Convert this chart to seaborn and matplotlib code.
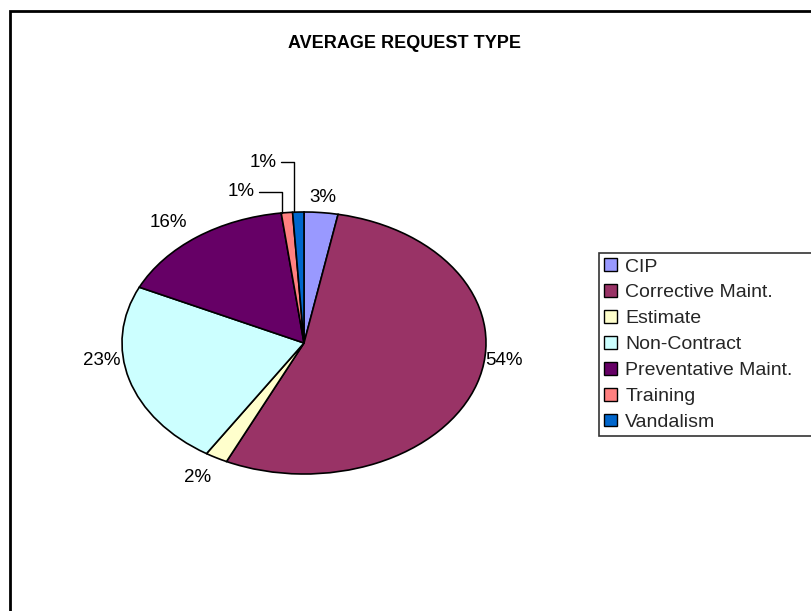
import matplotlib
matplotlib.use("Agg")
import matplotlib.pyplot as plt
import seaborn as sns
import numpy as np
from matplotlib.patches import Rectangle

categories = ["CIP", "Corrective Maint.", "Estimate", "Non-Contract",
              "Preventative Maint.", "Training", "Vandalism"]
values = [3, 54, 2, 23, 16, 1, 1]
colors = ["#9999FF", "#993366", "#FFFFCC", "#CCFFFF", "#660066", "#FF8080", "#0066CC"]
title = "AVERAGE REQUEST TYPE"

sns.set_theme(style="white")
plt.rcParams['font.family'] = ['Liberation Sans', 'DejaVu Sans']

W, H = 811, 611
fig = plt.figure(figsize=(W / 100, H / 100), dpi=100)
fig.patch.set_facecolor("white")

# outer frame
fig.add_artist(Rectangle((10 / W, -0.1), 1.2, 1.1 - 11 / H, transform=fig.transFigure,
                         fill=False, edgecolor="black", linewidth=2))

fig.text(404 / W, 1 - 43 / H, title, ha="center", va="center",
         fontsize=13, fontweight="bold", color="black")

# pie axes sized to the ellipse
cx, cy, rx, ry = 304, 343, 182, 131
ax = fig.add_axes([(cx - rx) / W, 1 - (cy + ry) / H, 2 * rx / W, 2 * ry / H])
wedges, _ = ax.pie(values, colors=colors, startangle=90, counterclock=False,
                   wedgeprops=dict(edgecolor="black", linewidth=1.2))
ax.set_aspect("auto")
ax.set_xlim(-1, 1)
ax.set_ylim(-1, 1)
ax.axis("off")

label_fs = 13.5
# label placement tweaks (distance factor, angle nudge in degrees)
place = [(1.115, 0), (1.108, 11), (1.18, -1), (1.12, -9.5), (1.18, 3)]
for i, (k, nudge) in enumerate(place):
    w = wedges[i]
    mid = np.deg2rad((w.theta1 + w.theta2) / 2 + nudge)
    ax.text(k * np.cos(mid), k * np.sin(mid), f"{values[i]}%", ha="center",
            va="center", fontsize=label_fs, color="black", clip_on=False)

# small slices with leader lines
offsets = {5: (-41.5, 21), 6: (-31, 50)}
for i, (dx, dy) in offsets.items():
    w = wedges[i]
    ang = np.deg2rad(w.theta2 - 0.1 * (w.theta2 - w.theta1))
    px, py = np.cos(ang), np.sin(ang)
    ax.annotate(f"{values[i]}%", xy=(px, py), xytext=(dx, dy), textcoords="offset pixels",
                ha="center", va="center", fontsize=label_fs, color="black",
                annotation_clip=False,
                arrowprops=dict(arrowstyle="-", color="black", linewidth=1,
                                shrinkA=1, shrinkB=0, relpos=(1, 0.5),
                                connectionstyle="angle,angleA=0,angleB=90,rad=0"))

leg = fig.legend(wedges, categories, loc="upper left",
                 bbox_to_anchor=(599 / W, 1 - 433 / H, 260 / W, 180 / H), mode="expand",
                 fontsize=14, frameon=True, fancybox=False, edgecolor="black",
                 handlelength=0.62, handleheight=0.62, handletextpad=0.45,
                 labelspacing=0.45, borderpad=0.28, borderaxespad=0)
leg.get_frame().set_linewidth(1.2)
for h in leg.legend_handles:
    h.set_edgecolor("black")
    h.set_linewidth(1)

fig.savefig("out.png", dpi=100)
